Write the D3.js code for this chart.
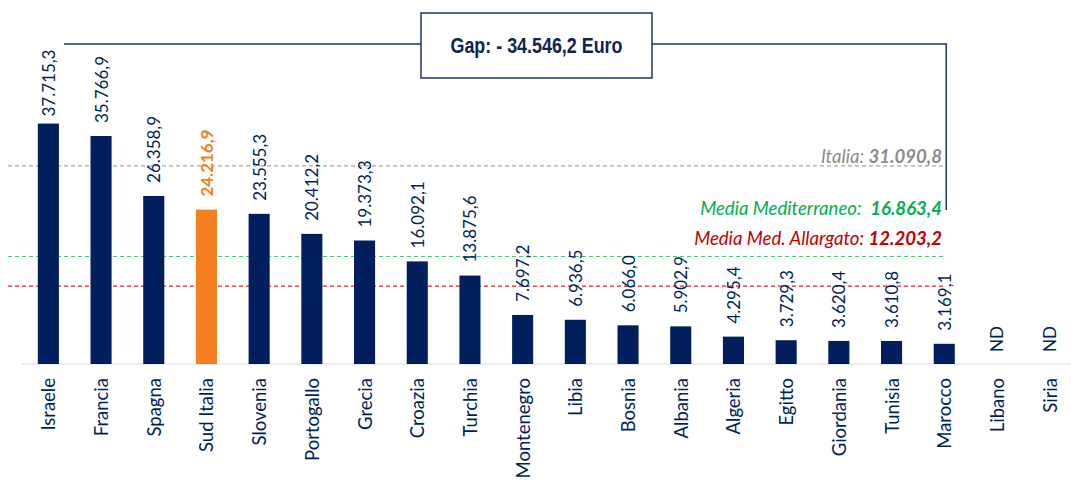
<!DOCTYPE html>
<html>
<head>
<meta charset="utf-8">
<script src="https://cdn.jsdelivr.net/npm/d3@7"></script>
<style>
  html, body { margin: 0; padding: 0; background: #fff; }
  svg { display: block; font-family: Lato, 'Noto Sans', sans-serif; }
</style>
</head>
<body>
<svg id="chart" width="1071" height="480"></svg>
<script>
// categories and values (ND = no data)
const countries = ['Israele', 'Francia', 'Spagna', 'Sud Italia', 'Slovenia', 'Portogallo', 'Grecia',
  'Croazia', 'Turchia', 'Montenegro', 'Libia', 'Bosnia', 'Albania', 'Algeria', 'Egitto',
  'Giordania', 'Tunisia', 'Marocco', 'Libano', 'Siria'];
const values = [37715.3, 35766.9, 26358.9, 24216.9, 23555.3, 20412.2, 19373.3,
  16092.1, 13875.6, 7697.2, 6936.5, 6066.0, 5902.9, 4295.4, 3729.3,
  3620.4, 3610.8, 3169.1, null, null];
const highlight = 'Sud Italia';

// reference lines
const refNames = ['Italia:', 'Media Mediterraneo:', 'Media Med. Allargato:'];
const refValues = [31090.8, 16863.4, 12203.2];
const refLineColors = ['#a6a6a6', '#3fd17a', '#ee1c1c'];
const refTextColors = ['#8c8c8c', '#00b050', '#c00000'];
const refTextY = [163, 215, 245];

const gapText = 'Gap: - 34.546,2 Euro';

const navy = '#001f5c';
const orange = '#f47f20';
const itFmt = d3.formatLocale({ decimal: ',', thousands: '.', grouping: [3] }).format(',.1f');

const svg = d3.select('#chart');

const x = d3.scaleBand()
  .domain(countries)
  .range([22, 1076])
  .paddingInner(0.6)
  .paddingOuter(0.3);

const y = d3.scaleLinear()
  .domain([0, 40000])
  .range([364, 109]);

const data = countries.map((c, i) => ({ name: c, value: values[i] }));

// dashed reference lines
refValues.forEach((v, i) => {
  svg.append('line')
    .attr('x1', 8)
    .attr('x2', 945)
    .attr('y1', y(v))
    .attr('y2', y(v))
    .attr('stroke', refLineColors[i])
    .attr('stroke-width', 1.2)
    .attr('stroke-dasharray', '4,3');
});

// baseline
svg.append('line')
  .attr('x1', 22)
  .attr('x2', 1071)
  .attr('y1', y(0))
  .attr('y2', y(0))
  .attr('stroke', '#d9d9d9')
  .attr('stroke-width', 1.2);

// bars
svg.append('g')
  .selectAll('rect')
  .data(data.filter((d) => d.value !== null))
  .join('rect')
  .attr('x', (d) => x(d.name))
  .attr('width', x.bandwidth())
  .attr('y', (d) => y(d.value))
  .attr('height', (d) => y(0) - y(d.value))
  .attr('fill', (d) => (d.name === highlight ? orange : navy));

// value labels, rotated; Israele sits a bit closer so it clears the bracket
svg.append('g')
  .selectAll('text')
  .data(data)
  .join('text')
  .attr('transform', (d) => {
    const cx = x(d.name) + x.bandwidth() / 2;
    const top = d.value === null ? y(0) - 12 : y(d.value) - (d.name === 'Israele' ? 7 : 13);
    return `translate(${cx},${top}) rotate(-90)`;
  })
  .attr('dominant-baseline', 'central')
  .attr('font-size', 17)
  .attr('font-weight', (d) => (d.name === highlight ? 700 : 400))
  .attr('fill', (d) => (d.name === highlight ? orange : navy))
  .text((d) => (d.value === null ? 'ND' : itFmt(d.value)));

// category labels
svg.append('g')
  .selectAll('text')
  .data(countries)
  .join('text')
  .attr('transform', (d) => `translate(${x(d) + x.bandwidth() / 2},378) rotate(-90)`)
  .attr('text-anchor', 'end')
  .attr('dominant-baseline', 'central')
  .attr('font-size', 18.5)
  .attr('fill', navy)
  .text((d) => d);

// reference labels
refValues.forEach((v, i) => {
  const t = svg.append('text')
    .attr('x', 942)
    .attr('y', refTextY[i])
    .attr('text-anchor', 'end')
    .attr('font-size', 18.6)
    .attr('font-style', 'italic')
    .attr('fill', refTextColors[i]);
  t.append('tspan').text(refNames[i] + (i === 1 ? '\u00a0\u00a0' : ' '));
  t.append('tspan').attr('font-weight', 700).text(itFmt(v));
});

// gap bracket between the first and last valued bar
const bracketY = 44;
const boxL = 421;
const boxR = 652;
const lastX = x('Marocco') + x.bandwidth() / 2 + 2;
svg.append('path')
  .attr('d', `M64,${bracketY}H${boxL}M${boxR},${bracketY}H${lastX}V210`)
  .attr('fill', 'none')
  .attr('stroke', '#1f3468')
  .attr('stroke-width', 1.5);

svg.append('rect')
  .attr('x', boxL)
  .attr('y', 13)
  .attr('width', boxR - boxL)
  .attr('height', 65)
  .attr('fill', '#fff')
  .attr('stroke', '#1f3468')
  .attr('stroke-width', 1.5);

// no narrow font installed, so squeeze the text to the reference width
svg.append('text')
  .attr('x', (boxL + boxR) / 2)
  .attr('y', 53)
  .attr('text-anchor', 'middle')
  .attr('font-family', "'Liberation Sans Narrow', 'Arial Narrow', 'Liberation Sans', sans-serif")
  .attr('font-weight', 700)
  .attr('font-size', 22)
  .attr('textLength', 172)
  .attr('lengthAdjust', 'spacingAndGlyphs')
  .attr('fill', '#0e2452')
  .text(gapText);
</script>
</body>
</html>
